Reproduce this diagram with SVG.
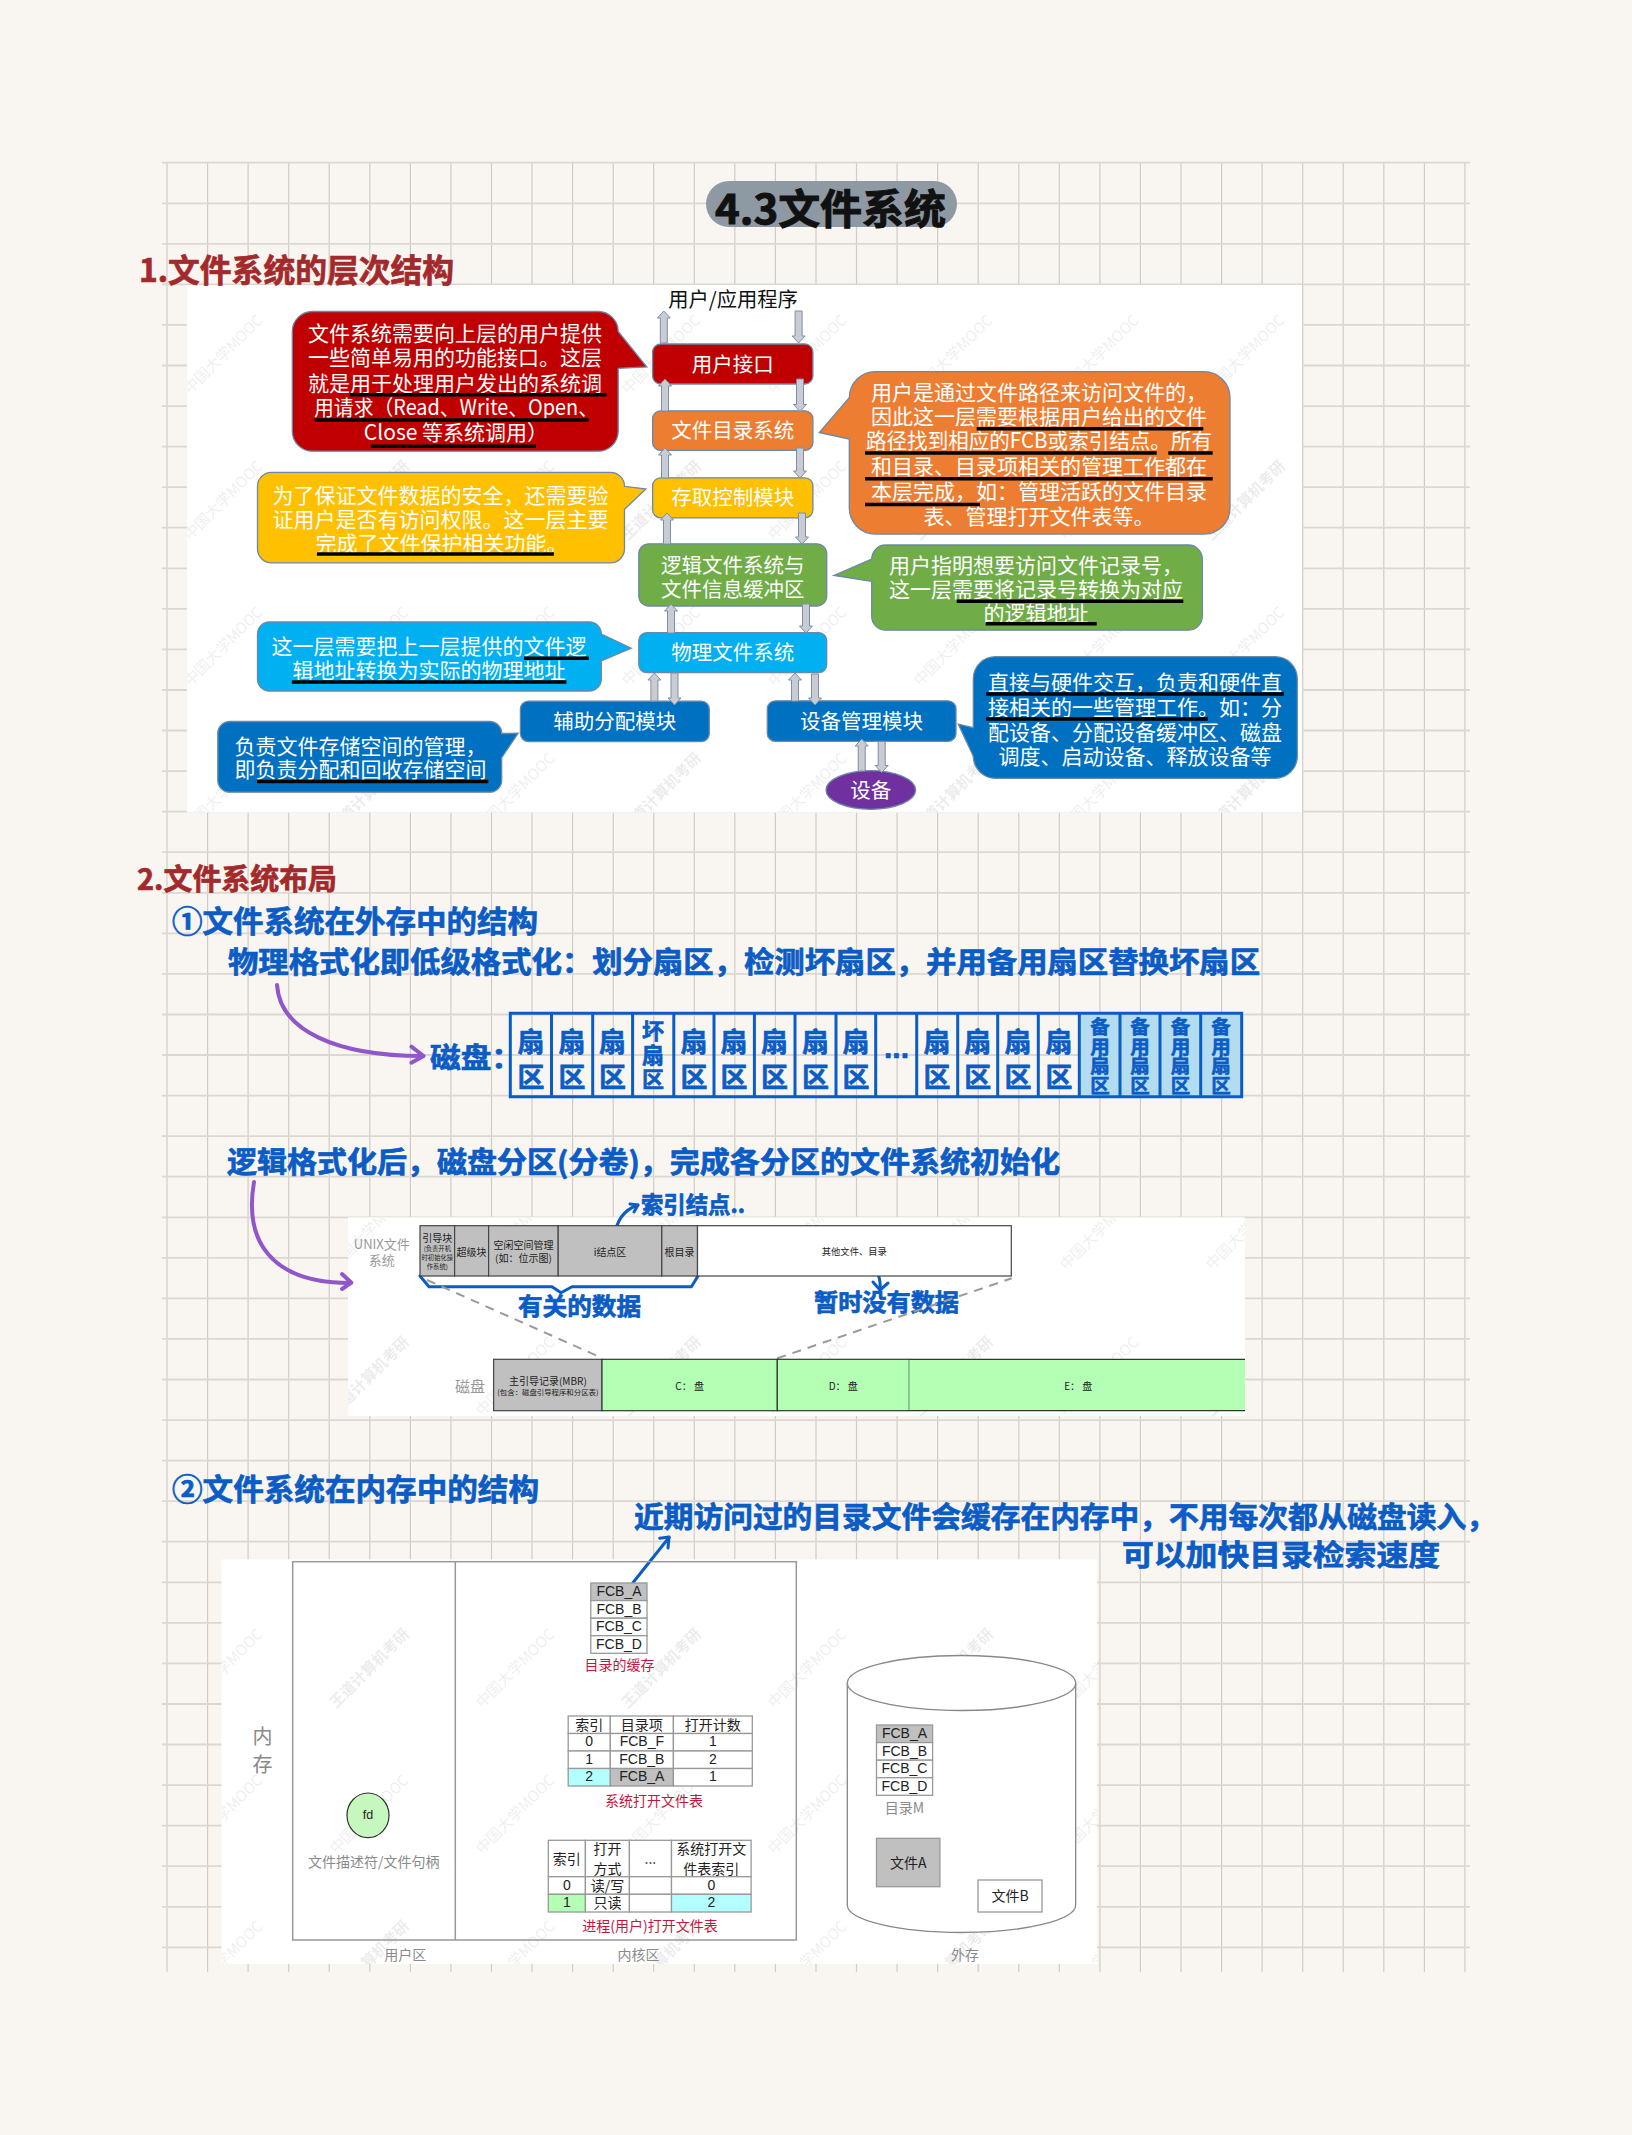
<svg xmlns="http://www.w3.org/2000/svg" width="1632" height="2135" viewBox="0 0 1632 2135">
<style>
text{font-family:"Noto Sans CJK SC","Liberation Sans",sans-serif}
.c{text-anchor:middle;dominant-baseline:central}
.n{font-size:20.5px;fill:#fff;text-anchor:middle;dominant-baseline:central;transform:translateY(-1.3px)}
.w{font-size:21px;fill:#fff;text-anchor:middle;dominant-baseline:central;transform:translateY(-1.3px)}
.ul{stroke:#000;stroke-width:3.5;fill:none}
.nb{stroke:#6a88a8;stroke-width:1.3}
.ar{fill:#c9cdd3;stroke:#7d8fa8;stroke-width:1}
.hr{fill:#a32a2c;stroke:#a32a2c;stroke-width:.7;font-weight:700}
.hb{fill:#0b5cc5;stroke:#0b5cc5;stroke-width:.7;font-weight:700}
.cell{fill:#0b5cc5;stroke:#0b5cc5;stroke-width:.6;font-weight:700;text-anchor:middle}
.v{writing-mode:vertical-rl}
.pu{fill:none;stroke:#9156c9;stroke-width:4;stroke-linecap:round;stroke-linejoin:round}
.bl{fill:none;stroke:#0b5cc5;stroke-width:3;stroke-linecap:round;stroke-linejoin:round}
.dash{fill:none;stroke:#9a9a9a;stroke-width:2;stroke-dasharray:9 7}
.box{fill:#c0c0c0;stroke:#444;stroke-width:1.2}
.grn{fill:#b3ffb3;stroke:#333;stroke-width:1.2}
.t{fill:#fff;stroke:#999;stroke-width:1.3}
.g{fill:#c0c0c0;stroke:#999;stroke-width:1.3}
.cy{fill:#b3ffff;stroke:#999;stroke-width:1.3}
.lg{fill:#b3ffb3;stroke:#999;stroke-width:1.3}
.s10{font-size:10px;fill:#222;text-anchor:middle;dominant-baseline:central}
.s6{font-size:6.3px;fill:#222;text-anchor:middle;dominant-baseline:central}
.s14{font-size:14px;fill:#222;text-anchor:middle;dominant-baseline:central;transform:translateY(-.7px)}
.f14{font-size:14px;fill:#222;text-anchor:middle;dominant-baseline:central;font-family:"Liberation Sans","Noto Sans CJK SC",sans-serif;transform:translateY(-.7px)}
.gy{font-size:14px;fill:#8a8a8a;text-anchor:middle;dominant-baseline:central;transform:translateY(-.7px)}
.rd{font-size:14px;fill:#c2173c;text-anchor:middle;dominant-baseline:central;transform:translateY(-.7px)}
</style>
<defs>
<pattern id="wm" width="292" height="292" patternUnits="userSpaceOnUse" x="157" y="285">
<g font-size="15" fill="#efefef" text-anchor="middle">
<text transform="translate(70,73) rotate(-45)">中国大学MOOC</text>
<text transform="translate(216,73) rotate(-45)">中国大学MOOC</text>
<text transform="translate(70,219) rotate(-45)">中国大学MOOC</text>
<text transform="translate(216,219) rotate(-45)" font-weight="700" fill="#ececec">王道计算机考研</text>
</g>
</pattern>
</defs>

<g id="background">
<rect width="1632" height="2135" fill="#f9f6f1"/>
<path fill="none" stroke="#d0ccc5" stroke-width="1.2" d="M167 162V1972M207.6 162V1972M248.1 162V1972M288.7 162V1972M329.2 162V1972M369.8 162V1972M410.4 162V1972M450.9 162V1972M491.5 162V1972M532 162V1972M572.6 162V1972M613.2 162V1972M653.7 162V1972M694.3 162V1972M734.8 162V1972M775.4 162V1972M816 162V1972M856.5 162V1972M897.1 162V1972M937.6 162V1972M978.2 162V1972M1018.8 162V1972M1059.3 162V1972M1099.9 162V1972M1140.4 162V1972M1181 162V1972M1221.6 162V1972M1262.1 162V1972M1302.7 162V1972M1343.2 162V1972M1383.8 162V1972M1424.4 162V1972M1464.9 162V1972"/>
<path fill="none" stroke="#dcd8d1" stroke-width="1.8" d="M162 162.7H1470M162 203.3H1470M162 243.8H1470M162 284.4H1470M162 324.9H1470M162 365.5H1470M162 406.1H1470M162 446.6H1470M162 487.2H1470M162 527.7H1470M162 568.3H1470M162 608.9H1470M162 649.4H1470M162 690H1470M162 730.5H1470M162 771.1H1470M162 811.7H1470M162 852.2H1470M162 892.8H1470M162 933.3H1470M162 973.9H1470M162 1014.5H1470M162 1055H1470M162 1095.6H1470M162 1136.1H1470M162 1176.7H1470M162 1217.3H1470M162 1257.8H1470M162 1298.4H1470M162 1338.9H1470M162 1379.5H1470M162 1420.1H1470M162 1460.6H1470M162 1501.2H1470M162 1541.7H1470M162 1582.3H1470M162 1622.9H1470M162 1663.4H1470M162 1704H1470M162 1744.5H1470M162 1785.1H1470M162 1825.7H1470M162 1866.2H1470M162 1906.8H1470M162 1947.3H1470"/>
</g>

<g id="panels">
<rect x="187" y="285" width="1115" height="527.5" fill="#fff"/>
<rect x="187" y="285" width="1115" height="527.5" fill="url(#wm)"/>
<rect x="348" y="1217.3" width="897" height="198.7" fill="#fff"/>
<rect x="348" y="1217.3" width="897" height="198.7" fill="url(#wm)"/>
<rect x="221.5" y="1559.3" width="875.5" height="404.7" fill="#fff"/>
<rect x="221.5" y="1559.3" width="875.5" height="404.7" fill="url(#wm)"/>
</g>

<g id="title">
<rect x="706" y="181" width="251" height="46" rx="23" fill="#8f99a3"/>
<text x="715" y="224" font-size="41" font-weight="700" stroke="#111" stroke-width="1" fill="#111" textLength="231" lengthAdjust="spacingAndGlyphs">4.3文件系统</text>
</g>
<text id="h1" class="hr" x="139" y="282" font-size="32" textLength="315" lengthAdjust="spacingAndGlyphs">1.文件系统的层次结构</text>
<text id="h2" class="hr" x="137" y="890" font-size="29" textLength="200" lengthAdjust="spacingAndGlyphs">2.文件系统布局</text>
<text id="h21" class="hb" x="172" y="932" font-size="30" textLength="366" lengthAdjust="spacingAndGlyphs">①文件系统在外存中的结构</text>
<text id="h22" class="hb" x="172" y="1500" font-size="30" textLength="367" lengthAdjust="spacingAndGlyphs">②文件系统在内存中的结构</text>
<text id="note-physical" class="hb" x="228" y="973" font-size="29" textLength="1032" lengthAdjust="spacingAndGlyphs">物理格式化即低级格式化：划分扇区，检测坏扇区，并用备用扇区替换坏扇区</text>
<text id="note-disk" class="hb" x="430" y="1068" font-size="28" textLength="92" lengthAdjust="spacingAndGlyphs">磁盘：</text>
<text id="note-logical" class="hb" x="227" y="1173" font-size="29" textLength="833" lengthAdjust="spacingAndGlyphs">逻辑格式化后，磁盘分区(分卷)，完成各分区的文件系统初始化</text>
<text id="note-inode" class="hb" x="641" y="1213" font-size="23" textLength="104" lengthAdjust="spacingAndGlyphs">索引结点..</text>
<text id="note-rel" class="hb" x="518" y="1315" font-size="24" textLength="123" lengthAdjust="spacingAndGlyphs">有关的数据</text>
<text id="note-empty" class="hb" x="814" y="1311" font-size="24" textLength="145" lengthAdjust="spacingAndGlyphs">暂时没有数据</text>
<text id="note-cache1" class="hb" x="634" y="1528" font-size="29" textLength="862" lengthAdjust="spacingAndGlyphs">近期访问过的目录文件会缓存在内存中，不用每次都从磁盘读入，</text>
<text id="note-cache2" class="hb" x="1122" y="1566" font-size="29" textLength="318" lengthAdjust="spacingAndGlyphs">可以加快目录检索速度</text>

<text id="user-app" class="c" x="733" y="298" font-size="20.3" fill="#111">用户/应用程序</text>

<g id="node-user-if"><rect class="nb" x="652.6" y="344" width="160.3" height="40" rx="8" fill="#c00000"/><text class="n" x="732.7" y="364">用户接口</text></g>
<g id="node-dir"><rect class="nb" x="652.6" y="410.8" width="160.3" height="39.6" rx="8" fill="#ed7d31"/><text class="n" x="732.7" y="430.6">文件目录系统</text></g>
<g id="node-access"><rect class="nb" x="652.6" y="477.8" width="160.3" height="40" rx="8" fill="#ffc000"/><text class="n" x="732.7" y="497.8">存取控制模块</text></g>
<g id="node-logic"><rect class="nb" x="638.8" y="543.8" width="187.9" height="62.2" rx="10" fill="#70ad47"/><text class="n" x="732.7" y="565">逻辑文件系统与</text><text class="n" x="732.7" y="589">文件信息缓冲区</text></g>
<g id="node-phys"><rect class="nb" x="638.8" y="632.6" width="187.9" height="40" rx="8" fill="#00b0f0"/><text class="n" x="732.7" y="652.6">物理文件系统</text></g>
<g id="node-alloc"><rect class="nb" x="520.4" y="701.2" width="188.9" height="40.4" rx="8" fill="#0070c0"/><text class="n" x="614.8" y="721.4">辅助分配模块</text></g>
<g id="node-dev-mgr"><rect class="nb" x="767.3" y="700.8" width="188.7" height="40.6" rx="8" fill="#0070c0"/><text class="n" x="861.6" y="721.1">设备管理模块</text></g>
<g id="node-device"><ellipse class="nb" cx="870.8" cy="790" rx="44.8" ry="19.3" fill="#7030a0"/><text class="n" x="870.8" y="790">设备</text></g>

<g id="connectors">
<path class="ar" d="M660.3 343V318h-3l6.5-7 6.5 7h-3V343z"/>
<path class="ar" d="M795.1 311V336h-3l6.5 7 6.5-7h-3V311z"/>
<path class="ar" d="M661.5 411V386h-3l6.5-7 6.5 7h-3V411z"/>
<path class="ar" d="M796.5 379V404.5h-3l6.5 7 6.5-7h-3V379z"/>
<path class="ar" d="M661.5 478V455h-3l6.5-7 6.5 7h-3V478z"/>
<path class="ar" d="M796.5 448V471h-3l6.5 7 6.5-7h-3V448z"/>
<path class="ar" d="M663.5 544V520h-3l6.5-7 6.5 7h-3V544z"/>
<path class="ar" d="M798.5 513V537h-3l6.5 7 6.5-7h-3V513z"/>
<path class="ar" d="M667.5 633V611h-3l6.5-7 6.5 7h-3V633z"/>
<path class="ar" d="M802.5 604V626h-3l6.5 7 6.5-7h-3V604z"/>
<path class="ar" d="M650.9 701V680h-3l6.5-7 6.5 7h-3V701z"/>
<path class="ar" d="M671 673V698h-3l6.5 7 6.5-7h-3V673z"/>
<path class="ar" d="M791.5 701V680h-3l6.5-7 6.5 7h-3V701z"/>
<path class="ar" d="M811.5 674V698h-3l6.5 7 6.5-7h-3V674z"/>
<path class="ar" d="M858.2 771V746h-3l6.5-7 6.5 7h-3V771z"/>
<path class="ar" d="M878.2 741.5V765.5h-3l6.5 7 6.5-7h-3V741.5z"/>
<path class="pu" d="M277 985C280 1030 335 1056 423 1056"/>
<path class="pu" d="M411.4 1046.7L423.6 1056L411.4 1062.7"/>
<path class="pu" d="M254 1182C244 1240 270 1283 350 1283"/>
<path class="pu" d="M342 1274L351.4 1282.7L342 1289"/>
<path class="bl" d="M614.6 1237C616 1221 624 1210 637.9 1205"/>
<path class="bl" d="M630 1204L638 1205L634 1212"/>
<path class="bl" d="M420 1276L429 1286.7H552L561 1292.7L572 1286.7H691.4L698.6 1275"/>
<path class="bl" d="M873.3 1266C878 1272 881 1280 880 1290"/>
<path class="bl" d="M873 1282L880 1290L888 1283"/>
<path class="dash" d="M427 1280L600.4 1357.3"/>
<path class="dash" d="M777.3 1358.3L1011.7 1278.3"/>
<path class="bl" d="M632.9 1582.7L669.2 1537.3"/>
<path class="bl" d="M659.7 1538.3L669 1537L668 1548"/>
</g>

<g id="callout-red">
<path class="nb" fill="#c00000" d="M312.3 311.5H598.2A20 20 0 0 1 618.2 331.5L646.8 367L618.2 368.3V431.2A20 20 0 0 1 598.2 451.2H312.3A20 20 0 0 1 292.3 431.2V331.5A20 20 0 0 1 312.3 311.5Z"/>
<text class="w" x="455" y="333.4">文件系统需要向上层的用户提供</text>
<text class="w" x="455" y="357.8">一些简单易用的功能接口。这层</text>
<text class="w" x="455" y="383">就是用于处理用户发出的系统调</text>
<text class="w" x="314" y="407.5" style="text-anchor:start" textLength="284" lengthAdjust="spacingAndGlyphs">用请求（Read、Write、Open、</text>
<text class="w" x="456" y="432.7">Close 等系统调用）</text>
<path class="ul" d="M350 394.8H606.6M314.6 420H588.8M370.9 446.2H536"/>
</g>
<g id="callout-yellow">
<path class="nb" fill="#ffc000" d="M271.5 472.3H610.5A14 14 0 0 1 624.5 486.3L645.9 489L624.5 509.3V548.8A14 14 0 0 1 610.5 562.8H271.5A14 14 0 0 1 257.5 548.8V486.3A14 14 0 0 1 271.5 472.3Z"/>
<text class="w" x="440.5" y="495.4">为了保证文件数据的安全，还需要验</text>
<text class="w" x="440.5" y="519">证用户是否有访问权限。这一层主要</text>
<text class="w" x="441.5" y="543">完成了文件保护相关功能。</text>
<path class="ul" d="M316.9 554H553.9"/>
</g>
<g id="callout-cyan">
<path class="nb" fill="#00b0f0" d="M269.5 622H589.3A12 12 0 0 1 601.3 634L631.2 648.2L601.3 660.8V679A12 12 0 0 1 589.3 691H269.5A12 12 0 0 1 257.5 679V634A12 12 0 0 1 269.5 622Z"/>
<text class="w" x="429" y="646">这一层需要把上一层提供的文件逻</text>
<text class="w" x="429" y="670">辑地址转换为实际的物理地址</text>
<path class="ul" d="M524 658.3H588.8M291.9 681.9H566.4"/>
</g>
<g id="callout-alloc">
<path class="nb" fill="#0070c0" d="M229.8 721.5H489.7A12 12 0 0 1 501.7 733.5L518.2 733.2L501.7 757.6V780.2A12 12 0 0 1 489.7 792.2H229.8A12 12 0 0 1 217.8 780.2V733.5A12 12 0 0 1 229.8 721.5Z"/>
<text class="w" x="234.5" y="745.9" style="text-anchor:start">负责文件存储空间的管理，</text>
<text class="w" x="234.5" y="769.4" style="text-anchor:start">即负责分配和回收存储空间</text>
<path class="ul" d="M257 781.6H488.3"/>
</g>
<g id="callout-orange">
<path class="nb" fill="#ed7d31" d="M875.3 371.6H1204A26 26 0 0 1 1230 397.6V508.1A26 26 0 0 1 1204 534.1H875.3A26 26 0 0 1 849.3 508.1V439L819.3 432.5L849.3 397.6A26 26 0 0 1 875.3 371.6Z"/>
<text class="w" x="1039" y="391.9">用户是通过文件路径来访问文件的，</text>
<text class="w" x="1039" y="416.7">因此这一层需要根据用户给出的文件</text>
<text class="w" x="1039" y="440.8" textLength="346" lengthAdjust="spacingAndGlyphs">路径找到相应的FCB或索引结点。所有</text>
<text class="w" x="1039" y="466">和目录、目录项相关的管理工作都在</text>
<text class="w" x="1039" y="491.8">本层完成，如：管理活跃的文件目录</text>
<text class="w" x="1039" y="515.9">表、管理打开文件表等。</text>
<path class="ul" d="M976.7 428.8H1203.3M865 452.9H1156.7M1168.3 452.9H1212.7M865 478.7H1212.7M865 504.5H980"/>
</g>
<g id="callout-green">
<path class="nb" fill="#70ad47" d="M885.7 545H1188.3A14 14 0 0 1 1202.3 559V616.2A14 14 0 0 1 1188.3 630.2H885.7A14 14 0 0 1 871.7 616.2V581.3L834 575.5L871.7 559A14 14 0 0 1 885.7 545Z"/>
<text class="w" x="1036" y="565">用户指明想要访问文件记录号，</text>
<text class="w" x="1036" y="589.2">这一层需要将记录号转换为对应</text>
<text class="w" x="1036" y="613">的逻辑地址</text>
<path class="ul" d="M956.7 601.3H1183.3M985.7 623.7H1096.7"/>
</g>
<g id="callout-hw">
<path class="nb" fill="#0070c0" d="M995.3 656.7H1275.3A22 22 0 0 1 1297.3 678.7V756.3A22 22 0 0 1 1275.3 778.3H995.3A22 22 0 0 1 973.3 756.3L958.3 724.2L973.3 727.7V678.7A22 22 0 0 1 995.3 656.7Z"/>
<text class="w" x="1135" y="681.9">直接与硬件交互，负责和硬件直</text>
<text class="w" x="1135" y="707">接相关的一些管理工作。如：分</text>
<text class="w" x="1135" y="732.1">配设备、分配设备缓冲区、磁盘</text>
<text class="w" x="1135" y="755.9">调度、启动设备、释放设备等</text>
<path class="ul" d="M986 693.9H1284M986 719H1207.7"/>
</g>

<g id="sector-table">
<rect x="1079.3" y="1013.3" width="162.4" height="83.4" fill="#b4dcf0"/>
<path fill="none" stroke="#0b5cc5" stroke-width="3" d="M510.3 1013.3H1241.7V1096.7H510.3ZM551.5 1013.3V1096.7M592.7 1013.3V1096.7M632.6 1013.3V1096.7M673.8 1013.3V1096.7M714 1013.3V1096.7M754.4 1013.3V1096.7M795 1013.3V1096.7M836 1013.3V1096.7M875.7 1013.3V1096.7M916.7 1013.3V1096.7M957.7 1013.3V1096.7M997.7 1013.3V1096.7M1038.3 1013.3V1096.7M1079.3 1013.3V1096.7M1120 1013.3V1096.7M1160 1013.3V1096.7M1200.7 1013.3V1096.7"/>
<g font-size="27" letter-spacing="8">
<text class="cell v" x="531" y="1063">扇区</text>
<text class="cell v" x="572" y="1063">扇区</text>
<text class="cell v" x="612.6" y="1063">扇区</text>
<text class="cell v" x="653" y="1056" font-size="22" letter-spacing="2">坏扇区</text>
<text class="cell v" x="694" y="1063">扇区</text>
<text class="cell v" x="734" y="1063">扇区</text>
<text class="cell v" x="774.4" y="1063">扇区</text>
<text class="cell v" x="815.5" y="1063">扇区</text>
<text class="cell v" x="856" y="1063">扇区</text>
<text class="cell" x="896.5" y="1058" style="font-family:'Liberation Sans',sans-serif" font-size="30" letter-spacing="0">...</text>
<text class="cell v" x="937" y="1063">扇区</text>
<text class="cell v" x="977.7" y="1063">扇区</text>
<text class="cell v" x="1018" y="1063">扇区</text>
<text class="cell v" x="1059" y="1063">扇区</text>
<g font-size="19.5" letter-spacing="0">
<text class="cell v" x="1100" y="1056">备用扇区</text>
<text class="cell v" x="1140" y="1056">备用扇区</text>
<text class="cell v" x="1180.4" y="1056">备用扇区</text>
<text class="cell v" x="1221" y="1056">备用扇区</text>
</g>
</g>
</g>

<g id="unix-fs">
<text class="c" x="381.8" y="1243" font-size="13" fill="#999">UNIX文件</text>
<text class="c" x="381.8" y="1259.5" font-size="13" fill="#999">系统</text>
<rect class="box" x="420" y="1225.7" width="34.6" height="50.3"/>
<rect class="box" x="454.6" y="1225.7" width="34" height="50.3"/>
<rect class="box" x="488.6" y="1225.7" width="69.6" height="50.3"/>
<rect class="box" x="558.2" y="1225.7" width="103.6" height="50.3"/>
<rect class="box" x="661.8" y="1225.7" width="35.7" height="50.3"/>
<rect x="697.5" y="1225.7" width="313.8" height="50.3" fill="#fff" stroke="#444" stroke-width="1.2"/>
<text class="s10" x="437.3" y="1237.7">引导块</text>
<text class="s6" x="437.3" y="1248.3">(负责开机</text>
<text class="s6" x="437.3" y="1257.3">时初始化操</text>
<text class="s6" x="437.3" y="1266.7">作系统)</text>
<text class="s10" x="471.6" y="1251">超级块</text>
<text class="s10" x="523.4" y="1244.7">空闲空间管理</text>
<text class="s10" x="523.4" y="1257.3">(如：位示图)</text>
<text class="s10" x="610" y="1251">i结点区</text>
<text class="s10" x="679.6" y="1251">根目录</text>
<text class="s10" x="854.3" y="1251" style="font-size:9.3px">其他文件、目录</text>
</g>
<g id="disk">
<text class="c" x="470" y="1385" font-size="15" fill="#999">磁盘</text>
<rect class="box" x="493.6" y="1359.3" width="108.4" height="51.4"/>
<rect class="grn" x="602" y="1359.3" width="175.3" height="51.4"/>
<rect class="grn" x="777.3" y="1359.3" width="132" height="51.4"/>
<rect x="909.3" y="1359.3" width="335.7" height="51.4" fill="#b3ffb3"/>
<path fill="none" stroke="#333" stroke-width="1.2" d="M909.3 1359.3H1245M909.3 1410.7H1245"/>
<text class="s10" x="547.9" y="1380">主引导记录(MBR)</text>
<text class="s6" x="547.9" y="1391.7" style="font-size:7.4px">(包含：磁盘引导程序和分区表)</text>
<text class="s10" x="689.6" y="1385">C： 盘</text>
<text class="s10" x="843.3" y="1385">D： 盘</text>
<text class="s10" x="1078.3" y="1385">E： 盘</text>
</g>

<g id="memory">
<rect x="292.7" y="1561.7" width="503.6" height="378.3" fill="none" stroke="#999" stroke-width="1.5"/>
<path d="M455.3 1561.7V1940" stroke="#999" stroke-width="1.5" fill="none"/>
<text class="c" x="262.4" y="1735" font-size="20" fill="#888">内</text>
<text class="c" x="262.4" y="1763" font-size="20" fill="#888">存</text>
<text class="gy" x="405.2" y="1954.3">用户区</text>
<text class="gy" x="638.6" y="1954.3">内核区</text>
<text class="gy" x="965.1" y="1954.3">外存</text>
</g>
<g id="node-fd">
<ellipse cx="368" cy="1815.3" rx="21" ry="22.3" fill="#c6f7bf" stroke="#333" stroke-width="1.2"/>
<text class="f14" x="368" y="1815.3" style="font-size:12.5px">fd</text>
<text class="gy" x="373.8" y="1861.7">文件描述符/文件句柄</text>
</g>
<g id="dir-cache">
<rect class="g" x="590.8" y="1583" width="56.2" height="17.6"/>
<rect class="t" x="590.8" y="1600.6" width="56.2" height="17.6"/>
<rect class="t" x="590.8" y="1618.2" width="56.2" height="17.5"/>
<rect class="t" x="590.8" y="1635.7" width="56.2" height="17.6"/>
<text class="f14" x="619" y="1591.8">FCB_A</text>
<text class="f14" x="619" y="1609.4">FCB_B</text>
<text class="f14" x="619" y="1627">FCB_C</text>
<text class="f14" x="619" y="1644.5">FCB_D</text>
<text class="rd" x="619.5" y="1665">目录的缓存</text>
</g>
<g id="sys-open-table">
<rect class="t" x="568.2" y="1716" width="42.1" height="17.5"/>
<rect class="t" x="610.3" y="1716" width="63.1" height="17.5"/>
<rect class="t" x="673.4" y="1716" width="78.9" height="17.5"/>
<rect class="t" x="568.2" y="1733.5" width="42.1" height="17.5"/>
<rect class="t" x="610.3" y="1733.5" width="63.1" height="17.5"/>
<rect class="t" x="673.4" y="1733.5" width="78.9" height="17.5"/>
<rect class="t" x="568.2" y="1751" width="42.1" height="17.5"/>
<rect class="t" x="610.3" y="1751" width="63.1" height="17.5"/>
<rect class="t" x="673.4" y="1751" width="78.9" height="17.5"/>
<rect class="cy" x="568.2" y="1768.5" width="42.1" height="17.5"/>
<rect class="g" x="610.3" y="1768.5" width="63.1" height="17.5"/>
<rect class="t" x="673.4" y="1768.5" width="78.9" height="17.5"/>
<text class="s14" x="589.2" y="1724.7">索引</text>
<text class="s14" x="641.8" y="1724.7">目录项</text>
<text class="s14" x="712.8" y="1724.7">打开计数</text>
<text class="f14" x="589.2" y="1742.2">0</text>
<text class="f14" x="641.8" y="1742.2">FCB_F</text>
<text class="f14" x="712.8" y="1742.2">1</text>
<text class="f14" x="589.2" y="1759.7">1</text>
<text class="f14" x="641.8" y="1759.7">FCB_B</text>
<text class="f14" x="712.8" y="1759.7">2</text>
<text class="f14" x="589.2" y="1777.2">2</text>
<text class="f14" x="641.8" y="1777.2">FCB_A</text>
<text class="f14" x="712.8" y="1777.2">1</text>
<text class="rd" x="654" y="1800.7">系统打开文件表</text>
</g>
<g id="proc-open-table">
<rect class="t" x="548.3" y="1840.3" width="37.1" height="36.4"/>
<rect class="t" x="585.4" y="1840.3" width="44" height="36.4"/>
<rect class="t" x="629.4" y="1840.3" width="42.1" height="36.4"/>
<rect class="t" x="671.5" y="1840.3" width="79.6" height="36.4"/>
<rect class="t" x="548.3" y="1876.7" width="37.1" height="17.6"/>
<rect class="t" x="585.4" y="1876.7" width="44" height="17.6"/>
<rect class="t" x="629.4" y="1876.7" width="42.1" height="17.6"/>
<rect class="t" x="671.5" y="1876.7" width="79.6" height="17.6"/>
<rect class="lg" x="548.3" y="1894.3" width="37.1" height="17.7"/>
<rect class="t" x="585.4" y="1894.3" width="44" height="17.7"/>
<rect class="t" x="629.4" y="1894.3" width="42.1" height="17.7"/>
<rect class="cy" x="671.5" y="1894.3" width="79.6" height="17.7"/>
<text class="s14" x="566.8" y="1858.5">索引</text>
<text class="s14" x="607.4" y="1849">打开</text>
<text class="s14" x="607.4" y="1868.5">方式</text>
<text class="s14" x="650.4" y="1858.5" style="fill:#555">...</text>
<text class="s14" x="711.3" y="1849">系统打开文</text>
<text class="s14" x="711.3" y="1868.5">件表索引</text>
<text class="f14" x="566.8" y="1885.5">0</text>
<text class="s14" x="607.4" y="1885.5">读/写</text>
<text class="f14" x="711.3" y="1885.5">0</text>
<text class="f14" x="566.8" y="1903">1</text>
<text class="s14" x="607.4" y="1903">只读</text>
<text class="f14" x="711.3" y="1903">2</text>
<text class="rd" x="650" y="1926">进程(用户)打开文件表</text>
</g>
<g id="disk-cylinder">
<path d="M847.3 1683V1905A114.2 27.5 0 0 0 1075.7 1905V1683" fill="#fff" stroke="#888" stroke-width="1.3"/>
<ellipse cx="961.5" cy="1683" rx="114.2" ry="27.5" fill="#fff" stroke="#888" stroke-width="1.3"/>
<rect class="g" x="876.5" y="1725" width="56.1" height="17.6"/>
<rect class="t" x="876.5" y="1742.6" width="56.1" height="17.6"/>
<rect class="t" x="876.5" y="1760.2" width="56.1" height="17.5"/>
<rect class="t" x="876.5" y="1777.7" width="56.1" height="17.6"/>
<text class="f14" x="904.5" y="1733.8">FCB_A</text>
<text class="f14" x="904.5" y="1751.4">FCB_B</text>
<text class="f14" x="904.5" y="1769">FCB_C</text>
<text class="f14" x="904.5" y="1786.5">FCB_D</text>
<text class="gy" x="904.5" y="1807.3">目录M</text>
<rect class="g" x="876.5" y="1838.3" width="63.4" height="48.4"/>
<text class="s14" x="908.2" y="1862.5">文件A</text>
<rect class="t" x="978" y="1880" width="64" height="32"/>
<text class="s14" x="1010" y="1896">文件B</text>
</g>
</svg>
